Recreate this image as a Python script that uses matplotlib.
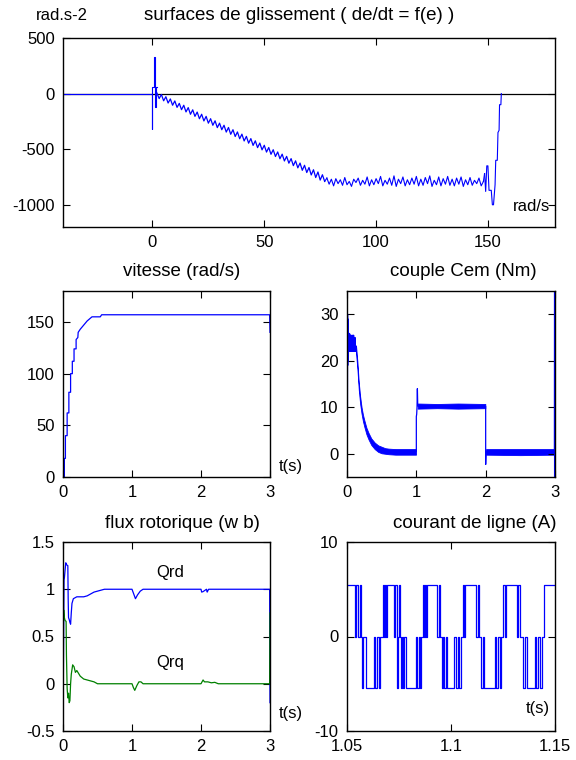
import matplotlib
import matplotlib.pyplot as plt

matplotlib.use("Agg")

plt.rcParams["font.family"] = ["Liberation Sans", "DejaVu Sans"]
plt.rcParams["axes.unicode_minus"] = False

BLUE = "#0000ff"
GREEN = "#008000"

# --- surfaces de glissement: de/dt versus e ---
surf_start_x = [-40, 0, 0, 0, 0, 0.5, 0.5, 1.0, 1.0, 1.5, 1.5, 2.0]
surf_start_y = [0, 0, -320, 60, 60, 60, 330, 330, -120, -120, 60, 60]
surf_slope_x = list(range(2, 78))
surf_slope_y = [
    5, -45, -8, -65, -28, -85, -48, -105, -66, -124,
    -88, -145, -105, -165, -126, -186, -146, -205, -166, -226,
    -186, -246, -205, -266, -226, -285, -245, -306, -266, -325,
    -285, -346, -305, -366, -325, -386, -345, -406, -365, -426,
    -385, -446, -405, -466, -425, -486, -445, -506, -465, -526,
    -485, -546, -505, -566, -525, -586, -545, -606, -565, -626,
    -585, -648, -605, -668, -625, -690, -645, -710, -665, -732,
    -685, -755, -705, -778, -730, -790,
]
surf_plat_x = list(range(78, 149))
surf_plat_y = [
    -760, -815, -770, -830, -765, -810, -775, -825, -755, -820,
    -790, -835, -770, -800, -760, -825, -780, -815, -750, -830,
    -775, -820, -765, -810, -745, -830, -780, -815, -760, -825,
    -740, -835, -770, -810, -750, -830, -775, -820, -760, -815,
    -745, -830, -770, -825, -755, -810, -740, -835, -780, -820,
    -750, -830, -765, -815, -745, -825, -770, -830, -760, -815,
    -750, -835, -775, -820, -755, -825, -780, -810, -760, -830,
    -790,
]
surf_end_x = [148.5, 149, 149.5, 150, 150.5, 151.5, 152, 152.5, 153.2, 153.5,
              154.2, 154.5, 155, 155.2, 155.8, 156]
surf_end_y = [-720, -880, -650, -650, -870, -870, -1000, -1000, -820, -600,
              -600, -350, -330, -100, -100, 0]

# --- vitesse (rad/s) ---
speed_t = [0, 0.02, 0.02, 0.035, 0.035, 0.06, 0.06, 0.085, 0.085, 0.11, 0.11,
           0.135, 0.135, 0.16, 0.16, 0.19, 0.19, 0.215, 0.22, 0.25, 0.3, 0.35,
           0.42, 0.5, 0.54, 0.56, 2.995, 3.0]
speed_w = [0, 0, 18, 18, 40, 40, 62, 62, 82, 82, 100,
           100, 112, 112, 124, 124, 133, 135, 140, 143, 147, 151,
           155, 155, 155, 157, 157, 140]

# --- couple Cem (Nm) ---
cem_start_t = [0, 0.004, 0.006, 0.008, 0.010, 0.012, 0.014, 0.017, 0.02, 0.023,
               0.026, 0.03, 0.034, 0.038, 0.042, 0.046, 0.05, 0.055, 0.06, 0.065,
               0.07, 0.075, 0.08, 0.085, 0.09, 0.095, 0.1, 0.105, 0.11, 0.115,
               0.12, 0.125, 0.13]
cem_start_y = [0, 4.5, 4.5, 30, 19, 29, 20, 27, 21, 26,
               22, 25.5, 22, 25.8, 22.5, 25, 22, 25.5, 22.5, 25,
               22, 25.5, 22.5, 25, 22, 25.5, 22, 25, 22.5, 25,
               22, 23, 22.5]
cem_decay_t = [0.13, 0.15, 0.17, 0.19, 0.21, 0.23, 0.25, 0.28, 0.31, 0.35,
               0.4, 0.45, 0.5, 0.55, 0.6, 0.7, 0.8, 0.9, 0.995]
cem_decay_hi = [23.3, 19.8, 15.3, 12.3, 10.0, 8.4, 7.2, 5.6, 4.5, 3.3,
                2.4, 1.8, 1.5, 1.2, 1.1, 1.0, 1.0, 1.0, 1.0]
cem_decay_lo = [21.7, 18.2, 13.7, 10.7, 8.6, 7.0, 5.8, 4.2, 3.1, 1.9,
                1.0, 0.4, 0.1, 0.0, -0.1, -0.2, -0.2, -0.2, -0.2]
cem_step1_t = [0.995, 1.0, 1.0, 1.005, 1.01, 1.015, 1.02, 1.03]
cem_step1_y = [0.5, 0.5, 8, 8.5, 10, 14, 10.5, 10.2]
cem_load_t = [1.02, 1.3, 1.6, 1.995]
cem_load_hi = [10.8, 10.7, 10.8, 10.7]
cem_load_lo = [9.7, 9.8, 9.7, 9.8]
cem_step2_t = [1.995, 2.0, 2.0, 2.005, 2.01]
cem_step2_y = [10.2, 10.2, -2.3, 0.5, 0.4]
cem_end_t = [2.005, 2.5, 2.995]
cem_end_hi = [1.0, 1.0, 1.0]
cem_end_lo = [-0.2, -0.3, -0.2]
cem_last_t = [2.995, 2.998, 3.0, 3.0]
cem_last_y = [0.4, 0.4, 40, -10]

# --- flux rotorique (wb) ---
qrd_t = [0, 0.005, 0.01, 0.015, 0.02, 0.03, 0.04, 0.05, 0.07, 0.075, 0.08, 0.09,
         0.1, 0.11, 0.12, 0.13, 0.15, 0.2, 0.25, 0.3, 0.35, 0.4, 0.45, 0.5, 0.55,
         0.6, 1.0, 1.03, 1.05, 1.08, 1.12, 1.16, 2.0, 2.01, 2.03, 2.05, 2.08,
         2.09, 2.1, 2.11, 2.995, 3.0]
qrd = [0, 0.05, 0.6, 1.1, 1.12, 1.2, 1.28, 1.26, 1.25, 0.9, 0.7, 0.68,
       0.65, 0.63, 0.75, 0.85, 0.9, 0.92, 0.92, 0.92, 0.93, 0.95, 0.97, 0.98, 0.99,
       1.0, 1.0, 0.94, 0.9, 0.94, 0.98, 1.0, 1.0, 0.97, 0.975, 0.985, 1.0,
       0.97, 0.985, 1.0, 1.0, -0.2]
qrq_t = [0, 0.005, 0.01, 0.02, 0.03, 0.045, 0.05, 0.06, 0.07, 0.08, 0.09, 0.1,
         0.11, 0.12, 0.14, 0.16, 0.18, 0.2, 0.25, 0.3, 0.35, 0.4, 0.45, 0.5, 0.55,
         1.0, 1.02, 1.04, 1.07, 1.1, 1.13, 1.16, 2.0, 2.03, 2.05, 2.1, 2.15, 2.2,
         2.25, 2.995, 3.0]
qrq = [0.2, 0.6, 0.78, 0.7, 0.67, 0.66, 0.3, -0.05, -0.15, -0.1, -0.2, -0.18,
       0.0, 0.1, 0.2, 0.18, 0.12, 0.14, 0.08, 0.05, 0.04, 0.03, 0.02, 0.0, 0.0,
       0.0, -0.04, -0.07, -0.02, 0.02, 0.02, 0.0, 0.0, 0.04, 0.02, 0.02, 0.01, 0.015,
       0.0, 0.0, 0.75]

# --- courant de ligne (A): switching instants (ms after 1.05 s) and levels ---
cur_ms = [0, 4.0, 4.5, 5.2, 6.1, 6.8, 7.3, 7.7, 8.9, 13.2,
          13.7, 14.5, 15.3, 16.1, 17.1, 17.6, 18.1, 18.7, 19.0, 22.6,
          23.2, 23.9, 24.3, 25.0, 25.5, 26.1, 26.6, 27.1, 27.6, 28.2,
          33.1, 33.5, 34.7, 35.2, 35.8, 36.5, 37.1, 37.6, 38.2, 38.7,
          43.5, 44.2, 44.8, 45.5, 46.1, 46.8, 47.5, 48.1, 51.6, 52.4,
          53.2, 54.0, 54.8, 55.6, 56.2, 56.8, 62.1, 62.9, 63.7, 64.5,
          65.2, 65.8, 71.0, 71.8, 72.6, 73.4, 74.2, 75.0, 75.8, 76.6,
          81.5, 82.3, 83.1, 84.7, 85.5, 86.3, 90.3, 91.1, 91.9, 92.7,
          93.9, 94.8, 100.0]
cur_a = [5.5, 0, 5.5, 0, 5.5, 0, -5.5, 0, -5.5, 0,
         -5.5, 0, -5.5, 0, 5.5, 0, 5.5, 0, 5.5, 0,
         5.5, -5.5, 0, 5.5, 0, -5.5, 0, -5.5, 0, -5.5,
         0, -5.5, 0, -5.5, 0, 5.5, 0, 5.5, 0, 5.5,
         0, 5.5, 0, -5.5, 0, -5.5, 0, -5.5, 0, -5.5,
         0, -5.5, 0, 5.5, 0, 5.5, 0, 5.5, 0, -5.5,
         0, -5.5, 0, -5.5, 0, -5.5, 0, 5.5, 0, 5.5,
         0, 5.5, 0, -5.5, 0, -5.5, 0, -5.5, 0, -5.5,
         0, 5.5, 5.5]

W, H = 576, 760
TICK_FS = 12
LABEL_FS = 12
TITLE_FS = 13.5


def rect(left, top, right, bottom):
    return [left / W, 1 - bottom / H, (right - left) / W, (bottom - top) / H]


def style(ax):
    ax.tick_params(direction="in", top=True, right=True, length=5, width=0.8,
                   labelsize=TICK_FS, pad=6)
    for s in ax.spines.values():
        s.set_linewidth(1.0)


fig = plt.figure(figsize=(5.76, 7.6), dpi=100)

# Top: sliding surface
ax = fig.add_axes(rect(63, 38, 555, 227))
ax.axhline(0, color="k", lw=0.9)
ax.plot(surf_start_x, surf_start_y, color=BLUE, lw=0.8)
ax.plot(surf_slope_x, surf_slope_y, color=BLUE, lw=0.9)
ax.plot(surf_plat_x, surf_plat_y, color=BLUE, lw=0.8)
ax.plot(surf_end_x, surf_end_y, color=BLUE, lw=0.8)
ax.plot([77, 78], [surf_slope_y[-1], surf_plat_y[0]], color=BLUE, lw=0.8)
ax.plot([148, 148.5], [surf_plat_y[-1], surf_end_y[0]], color=BLUE, lw=0.8)
ax.set_xlim(-40, 180)
ax.set_ylim(-1200, 500)
ax.set_xticks([0, 50, 100, 150])
ax.set_yticks([-1000, -500, 0, 500])
ax.set_yticklabels(["-1000", "-500", "0", "500"])
style(ax)
ax.text(178, -1020, "rad/s", ha="right", va="center", fontsize=LABEL_FS)
fig.text(62 / W, 1 - 15 / H, "rad.s-2", ha="center", va="center", fontsize=LABEL_FS)
fig.text(299 / W, 1 - 15 / H, "surfaces de glissement ( de/dt = f(e) )",
         ha="center", va="center", fontsize=TITLE_FS)

# Middle left: speed
ax = fig.add_axes(rect(63, 291, 270, 477))
ax.plot(speed_t, speed_w, color=BLUE, lw=0.9)
ax.set_xlim(0, 3)
ax.set_ylim(0, 180)
ax.set_xticks([0, 1, 2, 3])
ax.set_yticks([0, 50, 100, 150])
style(ax)
ax.text(1.04, 0.054, "t(s)", transform=ax.transAxes, ha="left", va="center",
        fontsize=LABEL_FS)
fig.text(182 / W, 1 - 271 / H, "vitesse (rad/s)", ha="center", va="center",
         fontsize=TITLE_FS)

# Middle right: torque
ax = fig.add_axes(rect(347, 291, 555, 477))
ax.plot(cem_start_t, cem_start_y, color=BLUE, lw=0.9)
ax.fill_between(cem_decay_t, cem_decay_lo, cem_decay_hi, color=BLUE, lw=0.6)
ax.plot(cem_step1_t, cem_step1_y, color=BLUE, lw=0.9)
ax.fill_between(cem_load_t, cem_load_lo, cem_load_hi, color=BLUE, lw=0.6)
ax.plot(cem_step2_t, cem_step2_y, color=BLUE, lw=0.9)
ax.fill_between(cem_end_t, cem_end_lo, cem_end_hi, color=BLUE, lw=0.6)
ax.plot(cem_last_t, cem_last_y, color=BLUE, lw=1.5)
ax.set_xlim(0, 3)
ax.set_ylim(-5, 35)
ax.set_xticks([0, 1, 2, 3])
ax.set_yticks([0, 10, 20, 30])
style(ax)
fig.text(463 / W, 1 - 271 / H, "couple Cem (Nm)", ha="center", va="center",
         fontsize=TITLE_FS)

# Bottom left: rotor flux
ax = fig.add_axes(rect(63, 542, 270, 731))
ax.plot(qrd_t, qrd, color=BLUE, lw=0.9)
ax.plot(qrq_t, qrq, color=GREEN, lw=0.9)
ax.set_xlim(0, 3)
ax.set_ylim(-0.5, 1.5)
ax.set_xticks([0, 1, 2, 3])
ax.set_yticks([-0.5, 0, 0.5, 1, 1.5])
ax.set_yticklabels(["-0.5", "0", "0.5", "1", "1.5"])
style(ax)
ax.text(1.55, 1.175, "Qrd", ha="center", va="center", fontsize=LABEL_FS)
ax.text(1.55, 0.22, "Qrq", ha="center", va="center", fontsize=LABEL_FS)
ax.text(1.04, 0.09, "t(s)", transform=ax.transAxes, ha="left", va="center",
        fontsize=LABEL_FS)
fig.text(182 / W, 1 - 523 / H, "flux rotorique (w b)", ha="center", va="center",
         fontsize=TITLE_FS)

# Bottom right: line current
ax = fig.add_axes(rect(347, 542, 555, 731))
cur_t = [1.05 + m / 1000 for m in cur_ms]
ax.plot(cur_t, cur_a, color=BLUE, lw=0.9, drawstyle="steps-post")
ax.set_xlim(1.05, 1.15)
ax.set_ylim(-10, 10)
ax.set_xticks([1.05, 1.1, 1.15])
ax.set_xticklabels(["1.05", "1.1", "1.15"])
ax.set_yticks([-10, 0, 10])
style(ax)
ax.text(0.976, 0.12, "t(s)", transform=ax.transAxes, ha="right", va="center",
        fontsize=LABEL_FS)
fig.text(475 / W, 1 - 523 / H, "courant de ligne (A)", ha="center", va="center",
         fontsize=TITLE_FS)

fig.savefig("out.png", dpi=100)
plt.close(fig)
